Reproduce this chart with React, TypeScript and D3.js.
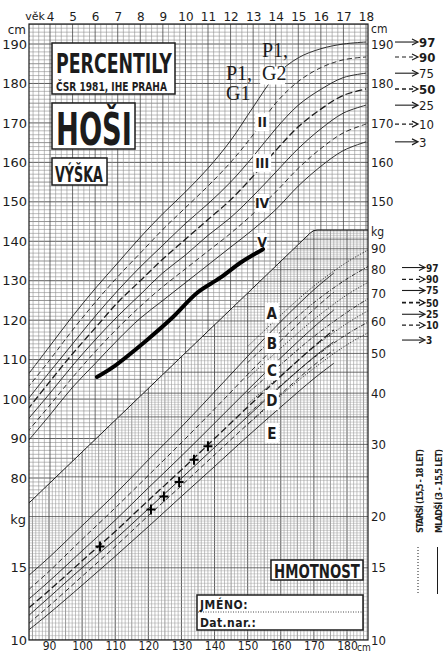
import { useEffect, useRef } from "react";
import * as d3 from "d3";

// height for age (cm), boys 3 - 18 years, percentiles 97 .. 3
const ages = [3, 4, 5, 6, 7, 8, 9, 10, 11, 12, 13, 14, 15, 16, 17, 18];
const hP97 = [106, 113.5, 121, 128, 134.5, 141, 147, 152.5, 158.5, 165.5, 174, 182, 186.5, 188.8, 190, 190.5];
const hP90 = [102.8, 110, 117.5, 124.5, 131, 137, 143, 148.5, 154, 160, 167, 175, 180.5, 184, 186, 186.7];
const hP75 = [99.8, 107, 114, 121, 127.5, 133.5, 139, 144.5, 149.5, 155, 161.5, 168.5, 174.5, 178.5, 181.5, 182.6];
const hP50 = [97.3, 104.5, 111.5, 118, 124.5, 130, 135.5, 140.5, 145.5, 150.5, 156.5, 163, 169, 173.5, 177, 178.6];
const hP25 = [94.7, 101.5, 108.5, 115, 121, 126.5, 132, 136.5, 141.5, 146, 151.5, 157.5, 163.5, 168.5, 172.5, 174.5];
const hP10 = [91.7, 98.5, 105.5, 112, 118, 123.5, 128.5, 133, 137.5, 142, 147, 152.5, 158.5, 163.5, 167.5, 169.7];
const hP3 = [89.2, 96, 103, 109, 115, 120.5, 125, 129.5, 134, 138.5, 143, 148, 154, 159, 163, 165.2];
const heightSeries = [hP97, hP90, hP75, hP50, hP25, hP10, hP3];
const pctNames = ["97", "90", "75", "50", "25", "10", "3"];

// weight for height (kg), younger boys 3 - 15,5 years
const youngCm = [84, 90, 100, 110, 120, 130, 140, 150, 160, 170, 176];
const yP97 = [14.4, 15.9, 19.0, 22.7, 27.5, 33.1, 40.3, 49.2, 59.8, 71.5, 78.5];
const yP90 = [13.3, 14.7, 17.6, 21.0, 25.2, 30.3, 36.6, 44.4, 53.7, 64.0, 70.5];
const yP75 = [12.6, 13.9, 16.5, 19.6, 23.5, 28.1, 33.8, 40.7, 48.8, 58.0, 63.8];
const yP50 = [12.0, 13.2, 15.6, 18.4, 21.9, 26.0, 31.0, 37.0, 44.0, 52.0, 57.0];
const yP25 = [11.5, 12.7, 15.0, 17.6, 20.9, 24.8, 29.5, 35.1, 41.6, 49.0, 53.4];
const yP10 = [11.0, 12.1, 14.3, 16.9, 20.1, 23.8, 28.3, 33.6, 39.8, 46.8, 51.0];
const yP3 = [10.6, 11.6, 13.6, 16.0, 18.9, 22.4, 26.5, 31.4, 37.0, 43.4, 47.3];
const youngSeries = [yP97, yP90, yP75, yP50, yP25, yP10, yP3];

// weight for height (kg), older boys 15,5 - 18 years
const olderCm = [150, 160, 170, 180, 187];
const oP97 = [52, 62, 73, 83.5, 90];
const oP90 = [47.5, 56.5, 66.5, 76, 82];
const oP75 = [43.5, 51.5, 60.5, 69.5, 75];
const oP50 = [40.0, 47.0, 55.0, 63.0, 68.5];
const oP25 = [37.6, 44.2, 51.8, 59.2, 64.0];
const oP10 = [35.5, 41.8, 48.8, 55.7, 60.0];
const oP3 = [33.5, 39.5, 46.0, 52.5, 56.5];
const olderSeries = [oP97, oP90, oP75, oP50, oP25, oP10, oP3];
const weightArrowKg = [81, 75.8, 71.2, 66.5, 62.3, 58.6, 53.9];

// the child's own entries
const childAge = [6.08, 6.79, 8.3, 9.45, 10.51, 11.53, 12.42, 12.99, 13.44];
const childHeight = [105.6, 108.1, 115.0, 120.8, 126.9, 130.7, 134.5, 136.5, 138.0];
const pointCm = [105.4, 120.8, 124.7, 129.3, 133.8, 138.0];
const pointKg = [16.9, 20.8, 22.4, 24.3, 27.5, 29.7];

// tick labels
const ageTicks = [4, 5, 6, 7, 8, 9, 10, 11, 12, 13, 14, 15, 16, 17, 18];
const cmTicksLeft = [190, 180, 170, 160, 150, 140, 130, 120, 110, 100, 90, 80];
const cmTicksRight = [190, 180, 170, 160, 150];
const kgTicksRight = [90, 80, 70, 60, 50, 40, 30, 20, 15, 10];
const kgTicksLeft = [15, 10];
const cmTicksBottom = [90, 100, 110, 120, 130, 140, 150, 160, 170, 180];

// zone labels
const heightZones = ["I", "II", "III", "IV", "V"];
const heightZoneCm = [182, 170.2, 159.8, 149.7, 139.8];
const zoneAge = 13.4;
const weightZones = ["A", "B", "C", "D", "E"];
const weightZoneKg = [62.8, 53, 45.5, 38.5, 32];
const zoneCm = 157.3;

// border between the height and the weight grid
const splitCm = [84, 169.8];
const splitKg = [21.6, 100];

const NARROW = "'Liberation Sans Narrow','Arial Narrow','DejaVu Sans Condensed',sans-serif";
const SANS = "'DejaVu Sans',sans-serif";
const SERIF = "'Liberation Serif','Times New Roman',serif";
const INK = "#1c1c1c";

export default function App() {
  const svgRef = useRef<SVGSVGElement>(null);
  const W = 443, H = 653;
  const L = 29, R = 368, T = 24, B = 640;

  useEffect(() => {
    const svg = d3.select(svgRef.current);
    svg.selectAll("*").remove();

    const xAge = d3.scaleLinear().domain([4, 18]).range([50, 366]);
    const yCm = d3.scaleLinear().domain([190, 80]).range([44, 478]);
    const xCm = d3.scaleLinear().domain([90, 180]).range([49, 347]);
    const yKg = d3.scaleLog().domain([10, 100]).range([640, 230]);

    svg.append("rect").attr("width", W).attr("height", H).attr("fill", "#fff");

    // clip regions for the two grids
    const sx0 = xCm(splitCm[0]), sy0 = yKg(splitKg[0]);
    const sx1 = xCm(splitCm[1]), sy1 = yKg(splitKg[1]);
    const defs = svg.append("defs");
    defs.append("clipPath").attr("id", "hclip").append("polygon")
      .attr("points", [[L, T], [R, T], [R, sy1], [sx1, sy1], [sx0, sy0], [L, sy0]].join(" "));
    defs.append("clipPath").attr("id", "wclip").append("polygon")
      .attr("points", [[sx0, sy0], [sx1, sy1], [R, sy1], [R, B], [L, B]].join(" "));

    // height grid: 1 cm x 1/4 year
    const hg = svg.append("g").attr("clip-path", "url(#hclip)");
    d3.range(70, 196, 1).forEach(c => {
      hg.append("line").attr("x1", L).attr("x2", R).attr("y1", yCm(c)).attr("y2", yCm(c))
        .attr("stroke", c % 5 === 0 ? "#4a4a4a" : "#8f8f8f")
        .attr("stroke-width", c % 10 === 0 ? 0.9 : 0.6);
    });
    d3.range(3, 18.3, 0.25).forEach(a => {
      const major = Math.abs(a - Math.round(a)) < 1e-6;
      hg.append("line").attr("x1", xAge(a)).attr("x2", xAge(a)).attr("y1", T).attr("y2", B)
        .attr("stroke", major ? "#4a4a4a" : "#8f8f8f").attr("stroke-width", major ? 0.8 : 0.6);
    });

    // weight grid: 1 cm x fine kg steps (log)
    const wg = svg.append("g").attr("clip-path", "url(#wclip)");
    d3.range(84, 187, 1).forEach(c => {
      wg.append("line").attr("x1", xCm(c)).attr("x2", xCm(c)).attr("y1", T).attr("y2", B)
        .attr("stroke", c % 5 === 0 ? "#4a4a4a" : "#8f8f8f")
        .attr("stroke-width", c % 10 === 0 ? 0.9 : 0.55);
    });
    const kgLines = [...d3.range(10, 20, 0.25), ...d3.range(20, 40, 0.5), ...d3.range(40, 101, 1)];
    kgLines.forEach(k => {
      const major = k % 5 === 0;
      wg.append("line").attr("x1", L).attr("x2", R).attr("y1", yKg(k)).attr("y2", yKg(k))
        .attr("stroke", major ? "#4a4a4a" : "#9c9c9c").attr("stroke-width", major ? 0.8 : 0.45);
    });

    // border line between the grids
    svg.append("path")
      .attr("d", `M${sx0},${sy0}L${sx1 - 3},${sy1 + 3}Q${sx1},${sy1} ${sx1 + 4},${sy1}L${R},${sy1}`)
      .attr("fill", "none").attr("stroke", INK).attr("stroke-width", 1);

    const dashes = [null, "5,3", null, "7,3", null, "5,3", null];
    const widths = [0.9, 0.9, 0.9, 1.3, 0.9, 0.9, 0.9];

    // height percentile curves
    const hLine = d3.line<number>().x((_, i) => xAge(ages[i])).y(d => yCm(d)).curve(d3.curveCatmullRom);
    const hc = svg.append("g").attr("clip-path", "url(#hclip)");
    heightSeries.forEach((s, i) => {
      hc.append("path").attr("d", hLine(s)).attr("fill", "none").attr("stroke", INK)
        .attr("stroke-width", widths[i]).attr("stroke-dasharray", dashes[i]);
    });

    // weight percentile curves
    const wc = svg.append("g").attr("clip-path", "url(#wclip)");
    const yLine = d3.line<number>().x((_, i) => xCm(youngCm[i])).y(d => yKg(d)).curve(d3.curveCatmullRom);
    const oLine = d3.line<number>().x((_, i) => xCm(olderCm[i])).y(d => yKg(d)).curve(d3.curveCatmullRom);
    youngSeries.forEach((s, i) => {
      wc.append("path").attr("d", yLine(s)).attr("fill", "none").attr("stroke", INK)
        .attr("stroke-width", widths[i]).attr("stroke-dasharray", dashes[i]);
    });
    olderSeries.forEach((s, i) => {
      wc.append("path").attr("d", oLine(s)).attr("fill", "none").attr("stroke", INK)
        .attr("stroke-width", 0.9).attr("stroke-dasharray", dashes[i] ? "4,1.5,1,1.5" : "1.2,1.6");
    });

    // frame
    svg.append("rect").attr("x", L).attr("y", T).attr("width", R - L).attr("height", B - T)
      .attr("fill", "none").attr("stroke", INK).attr("stroke-width", 1.2);

    // axes
    const styleAxis = (g: any, family: string, size: number) => {
      g.select(".domain").remove();
      g.selectAll("line").remove();
      g.selectAll("text").attr("font-family", family).attr("font-size", size).attr("fill", INK);
    };
    svg.append("g").attr("transform", `translate(0,${T})`)
      .call(d3.axisTop(xAge).tickValues(ageTicks).tickSize(0).tickPadding(3))
      .call((g: any) => styleAxis(g, SANS, 12));
    svg.append("g").attr("transform", `translate(${L},0)`)
      .call(d3.axisLeft(yCm).tickValues(cmTicksLeft).tickSize(0).tickPadding(2))
      .call((g: any) => styleAxis(g, SANS, 13));
    svg.append("g").attr("transform", `translate(${L},0)`)
      .call(d3.axisLeft(yKg).tickValues(kgTicksLeft).tickFormat(d3.format("d")).tickSize(0).tickPadding(2))
      .call((g: any) => styleAxis(g, SANS, 13));
    svg.append("g").attr("transform", `translate(${R},0)`)
      .call(d3.axisRight(yCm).tickValues(cmTicksRight).tickSize(0).tickPadding(3))
      .call((g: any) => styleAxis(g, NARROW, 13));
    svg.append("g").attr("transform", `translate(${R},0)`)
      .call(d3.axisRight(yKg).tickValues(kgTicksRight).tickFormat(d3.format("d")).tickSize(0).tickPadding(3))
      .call((g: any) => styleAxis(g, NARROW, 13));
    svg.append("g").attr("transform", `translate(0,${B})`)
      .call(d3.axisBottom(xCm).tickValues(cmTicksBottom).tickSize(0).tickPadding(1))
      .call((g: any) => styleAxis(g, NARROW, 12));

    const txt = (x: number, y: number, s: string, size: number, family = NARROW, weight = "normal", anchor = "start") =>
      svg.append("text").attr("x", x).attr("y", y).text(s).attr("font-size", size)
        .attr("font-family", family).attr("font-weight", weight).attr("text-anchor", anchor).attr("fill", INK);

    // squeeze a bold heading horizontally to a given width
    const fitted = (x: number, y: number, s: string, size: number, width: number) => {
      const g = svg.append("g");
      const t = g.append("text").text(s).attr("font-size", size).attr("font-family", NARROW)
        .attr("font-weight", "bold").attr("fill", INK);
      const natural = (t.node() as SVGTextElement).getComputedTextLength() || width;
      g.attr("transform", `translate(${x},${y}) scale(${width / natural},1)`);
    };

    txt(45, 20, "věk", 11, SANS, "normal", "end");
    txt(L - 3, 34, "cm", 12, SANS, "normal", "end");
    txt(L - 3, 524, "kg", 13, SANS, "normal", "end");
    txt(R + 3, 33, "cm", 12, NARROW);
    txt(R + 3, 236, "kg", 12, NARROW);
    txt(357, 651, "cm", 10, NARROW);

    // title boxes
    const box = (x: number, y: number, w: number, h: number) =>
      svg.append("rect").attr("x", x).attr("y", y).attr("width", w).attr("height", h)
        .attr("fill", "#fff").attr("stroke", INK).attr("stroke-width", 1.5);
    box(52, 43, 123, 51);
    fitted(56, 73, "PERCENTILY", 27, 116);
    fitted(56, 91, "ČSR 1981, IHE PRAHA", 13, 111);
    box(52, 103, 83, 46);
    fitted(56, 145, "HOŠI", 44, 76);
    box(52, 158, 55, 27);
    fitted(55, 182, "VÝŠKA", 21, 48);
    box(271, 560, 92, 20);
    fitted(274, 578, "HMOTNOST", 19, 86);
    box(197, 595, 166, 35);
    svg.append("line").attr("x1", 198).attr("x2", 362).attr("y1", 612).attr("y2", 612)
      .attr("stroke", INK).attr("stroke-width", 0.8).attr("stroke-dasharray", "1,1.5");
    txt(200, 609, "JMÉNO:", 12, NARROW, "bold").attr("letter-spacing", 0.6);
    txt(200, 627, "Dat.nar.:", 12, NARROW, "bold").attr("letter-spacing", 0.4);

    // zone labels
    heightZones.forEach((z, i) => {
      const cx = xAge(zoneAge), cy = yCm(heightZoneCm[i]);
      const w = i === 0 ? 25 : 6 + z.length * 4;
      svg.append("rect").attr("x", cx - (i === 0 ? 2 : w / 2)).attr("y", cy - 9).attr("width", w).attr("height", 18).attr("fill", "#fff");
      if (i > 0) txt(cx, cy + 5, z, 14, NARROW, "bold", "middle");
    });
    weightZones.forEach((z, i) => {
      const cx = xCm(zoneCm), cy = yKg(weightZoneKg[i]);
      svg.append("rect").attr("x", cx - 7).attr("y", cy - 10).attr("width", 14).attr("height", 20).attr("fill", "#fff");
      txt(cx, cy + 6, z, 15, NARROW, "bold", "middle");
    });

    // child's height track
    const track = d3.line<number>().x((_, i) => xAge(childAge[i])).y(d => yCm(d)).curve(d3.curveCatmullRom);
    svg.append("path").attr("d", track(childHeight)).attr("fill", "none").attr("stroke", "#000")
      .attr("stroke-width", 4).attr("stroke-linecap", "round");

    // child's weight points
    pointCm.forEach((c, i) => {
      const x = xCm(c), y = yKg(pointKg[i]);
      svg.append("path").attr("d", `M${x - 4.5},${y}H${x + 4.5}M${x},${y - 5}V${y + 5}`)
        .attr("stroke", "#000").attr("stroke-width", 2);
    });

    // handwritten notes
    txt(226, 80, "P1,", 20, SERIF);
    txt(226, 100, "G1", 20, SERIF);
    txt(262, 57, "P1,", 20, SERIF);
    txt(262, 80, "G2", 20, SERIF);

    // percentile arrows on the right
    const arrow = (x1: number, x2: number, y: number, dash: string | null, bold: boolean) => {
      svg.append("line").attr("x1", x1).attr("x2", x2 - 1).attr("y1", y).attr("y2", y)
        .attr("stroke", INK).attr("stroke-width", bold ? 1.6 : 1.1).attr("stroke-dasharray", dash);
      svg.append("path").attr("d", `M${x2 - 6},${y - 3}L${x2},${y}L${x2 - 6},${y + 3}`)
        .attr("fill", "none").attr("stroke", INK).attr("stroke-width", 1.2);
    };
    heightSeries.forEach((s, i) => {
      const y = yCm(s[s.length - 1]);
      arrow(395, 418, y, dashes[i] ? "4,3" : null, i === 3);
      txt(419, y + 5, pctNames[i], 13, NARROW, i < 2 || i === 3 ? "bold" : "normal");
    });
    weightArrowKg.forEach((k, i) => {
      const y = yKg(k);
      arrow(402, 425, y, dashes[i] ? "4,3" : null, i === 3);
      txt(426, y + 4, pctNames[i], 10, NARROW, "bold");
    });

    // legend: older / younger
    svg.append("text").attr("transform", "translate(423,533) rotate(-90)")
      .attr("font-family", NARROW).attr("font-size", 9).attr("font-weight", "bold").attr("fill", INK)
      .attr("textLength", 84).attr("lengthAdjust", "spacing").text("STARŠÍ   (15,5 - 18 LET)");
    svg.append("line").attr("x1", 418).attr("x2", 418).attr("y1", 547).attr("y2", 594)
      .attr("stroke", INK).attr("stroke-width", 1).attr("stroke-dasharray", "1,2");
    svg.append("text").attr("transform", "translate(442,533) rotate(-90)")
      .attr("font-family", NARROW).attr("font-size", 9).attr("font-weight", "bold").attr("fill", INK)
      .attr("textLength", 84).attr("lengthAdjust", "spacing").text("MLADŠÍ   (3 - 15,5 LET)");
    svg.append("line").attr("x1", 437.5).attr("x2", 437.5).attr("y1", 547).attr("y2", 594)
      .attr("stroke", INK).attr("stroke-width", 1);
  }, []);

  return <svg ref={svgRef} width={W} height={H} style={{ position: "absolute", left: 0, top: 0 }} />;
}
